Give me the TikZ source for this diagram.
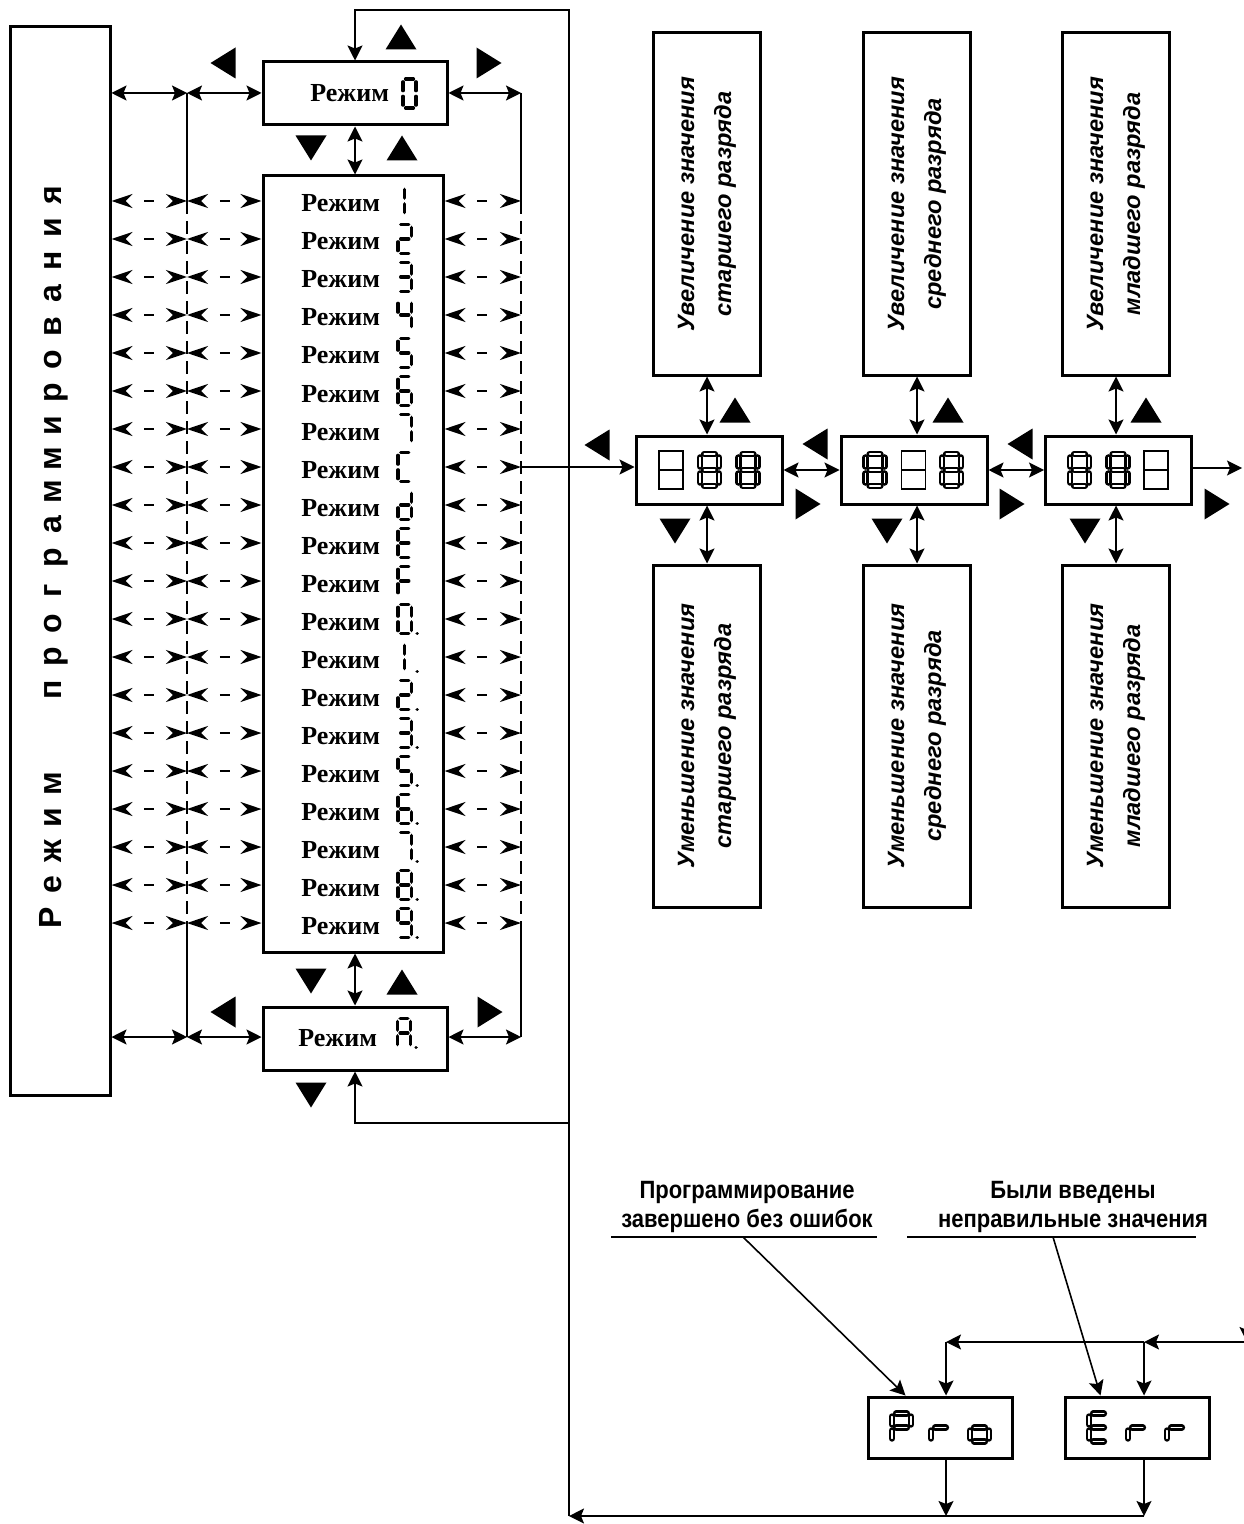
\documentclass[tikz,border=0pt]{standalone}
\usepackage{fontspec}
\setmainfont{Liberation Serif}
\setsansfont{Liberation Sans}
\newfontfamily\narrowsans[FakeStretch=0.88]{Liberation Sans}
\usetikzlibrary{arrows.meta}
\newcommand\segin{0.2}
\newcommand\sevseg[6]{%
  \edef\sglist{#5}%
  \begin{scope}[shift={(#1,#2)},xscale=#3,yscale=#4]
    \coordinate (sg-a1) at ({\segin},0);     \coordinate (sg-a2) at ({1-\segin},0);
    \coordinate (sg-b1) at (1,{\segin});     \coordinate (sg-b2) at (1,{1-\segin});
    \coordinate (sg-c1) at (1,{1+\segin});   \coordinate (sg-c2) at (1,{2-\segin});
    \coordinate (sg-d1) at ({\segin},2);     \coordinate (sg-d2) at ({1-\segin},2);
    \coordinate (sg-e1) at (0,{1+\segin});   \coordinate (sg-e2) at (0,{2-\segin});
    \coordinate (sg-f1) at (0,{\segin});     \coordinate (sg-f2) at (0,{1-\segin});
    \coordinate (sg-g1) at ({\segin},1);     \coordinate (sg-g2) at ({1-\segin},1);
    \coordinate (sg-h1) at (0.5,{\segin});   \coordinate (sg-h2) at (0.5,{1-\segin});
    \coordinate (sg-i1) at (0.5,{1+\segin}); \coordinate (sg-i2) at (0.5,{2-\segin});
    \coordinate (sg-p1) at (1.42,2);         \coordinate (sg-p2) at (1.43,2);
    \foreach \s in \sglist {\draw[#6] (sg-\s1) -- (sg-\s2);}
  \end{scope}}
\tikzset{
  triU/.pic={\fill (0,-12.5) -- (15.5,12.5) -- (-15.5,12.5) -- cycle;},
  triD/.pic={\fill (0,12.5) -- (15.5,-12.5) -- (-15.5,-12.5) -- cycle;},
  triL/.pic={\fill (-12.5,0) -- (12.5,-15.5) -- (12.5,15.5) -- cycle;},
  triR/.pic={\fill (12.5,0) -- (-12.5,-15.5) -- (-12.5,15.5) -- cycle;},
}
\begin{document}
\begin{tikzpicture}[x=0.5pt,y=-0.5pt,
  >={Stealth[length=7.5pt,width=7.5pt,inset=1.5pt]},
  box/.style={draw,line width=1.5pt,inner sep=0pt},
  conn/.style={line width=0.8pt},
  dbl/.style={conn,<->},
  ddbl/.style={conn,{Stealth[length=10.5pt,width=7pt,inset=3.5pt]}-{Stealth[length=10.5pt,width=7pt,inset=3.5pt]},dash pattern=on 0pt off 10pt on 5pt off 60pt,line width=1.2pt},
  vdash/.style={conn,dash pattern=on 6.5pt off 3.5pt},
  mtext/.style={font=\bfseries\fontsize{13}{15}\selectfont,inner sep=0pt},
  seg/.style={line width=1.7pt,line cap=round},
  bigseg/.style={line width=1.3pt,double=white,double distance=0.7pt,line cap=round},
  bigl/.style={rotate=90,anchor=base,inner sep=0pt,font=\sffamily\bfseries\fontsize{16}{18}\selectfont},
  talltext/.style={rotate=90,align=center,inner sep=0pt,font=\sffamily\bfseries\itshape\fontsize{11.8}{18.5}\selectfont},
  lbl/.style={align=center,inner sep=0pt,font=\narrowsans\bfseries\fontsize{12.5}{14.5}\selectfont},
]
\useasboundingbox (0,0) rectangle (1243,1524);

% ---------- left block ----------
\node[box,minimum width=50pt,minimum height=534pt] (lbox) at (60,561) {};
\foreach \ch [count=\k from 0] in {я,и,н,а,в,о,р,и,м,м,а,р,г,о,р,п}
  {\node[bigl] (lp\k) at (61,{195+33*\k}) {\ch};}
\foreach \ch [count=\k from 0] in {м,и,ж,е,Р}
  {\node[bigl] (lr\k) at (61,{784+33.5*\k}) {\ch};}

\node[box,minimum width=92pt,minimum height=31.5pt] (m0) at (355,93.5) {};
\node[box,minimum width=90pt,minimum height=388pt] (list) at (353,564) {};
\node[box,minimum width=92pt,minimum height=31.5pt] (mA) at (355,1038.5) {};

\node[mtext,anchor=base west] (m0t) at (310,102) {Режим};
\sevseg{403}{79}{13}{14.5}{a,b,c,d,e,f}{seg}
\node[mtext,anchor=base west] (mAt) at (298,1046) {Режим};
\sevseg{397.5}{1018.5}{13}{14.5}{a,b,c,e,f,g,p}{seg}

\coordinate (L0) at (187,93);  \coordinate (R0) at (521,93);
\coordinate (LA) at (187,1037); \coordinate (RA) at (521,1037);
\draw[dbl] (lbox.east |- L0) -- (L0);
\draw[dbl] (L0) -- (m0.west |- L0);
\draw[dbl] (m0.east |- R0) -- (R0);
\draw[dbl] (lbox.east |- LA) -- (LA);
\draw[dbl] (LA) -- (mA.west |- LA);
\draw[dbl] (mA.east |- RA) -- (RA);

\foreach \dg [count=\i] in {{h,i},{a,b,g,e,d},{a,b,g,c,d},{f,g,b,c},{a,f,g,c,d},{a,f,g,e,d,c},{a,b,c},{a,f,e,d},{b,c,d,e,g},{a,f,g,e,d},{a,f,g,e},{a,b,c,d,e,f,p},{h,i,p},{a,b,g,e,d,p},{a,b,g,c,d,p},{a,f,g,c,d,p},{a,f,g,e,d,c,p},{a,b,c,p},{a,b,c,d,e,f,g,p},{a,b,c,d,f,g,p}}{
  \pgfmathsetmacro\ry{201+38*(\i-1)}
  \coordinate (L\i) at (187,\ry);
  \coordinate (R\i) at (521,\ry);
  \node[mtext,anchor=base west] (rt\i) at (301,{\ry+11}) {Режим};
  \sevseg{398}{\ry-14.5}{13.5}{14.5}{\dg}{seg}
  \draw[ddbl] (lbox.east |- L\i) -- (L\i);
  \draw[ddbl] (L\i) -- (list.west |- L\i);
  \draw[ddbl] (list.east |- R\i) -- (R\i);
}
\draw[conn] (L0) -- (L1);
\draw[vdash] (L1) -- (L20);
\draw[conn] (L20) -- (LA);
\draw[conn] (R0) -- (R1);
\draw[vdash] (R1) -- (R20);
\draw[conn] (R20) -- (RA);

\draw[dbl] (m0.south) -- (m0.south |- list.north);
\draw[dbl] (list.south -| mA.north) -- (mA.north);

\pic at (223,63) {triL};
\pic at (401,37) {triU};
\pic at (489,63) {triR};
\pic at (311,148) {triD};
\pic at (402,148) {triU};
\pic at (311,981) {triD};
\pic at (402,982) {triU};
\pic at (223,1012) {triL};
\pic at (490,1012) {triR};
\pic at (311,1095) {triD};

% ---------- loop line ----------
\coordinate (tr) at (569,10);
\coordinate (br) at (569,1123);
\coordinate (bot) at (569,1516);
\draw[conn,->] (bot) -- (tr) -| (m0.north);
\draw[conn,->] (br) -| (mA.south);

% ---------- displays ----------
\node[box,minimum width=73pt,minimum height=34pt] (d1) at (709,470) {};
\node[box,minimum width=73pt,minimum height=34pt] (d2) at (914,470) {};
\node[box,minimum width=73pt,minimum height=34pt] (d3) at (1118.5,470) {};
\renewcommand\segin{0.22}
\draw[line width=0.6pt] (659,451) rectangle (683,489) (659,470) -- (683,470);
\sevseg{700}{454}{19}{16}{a,b,c,d,e,f,g}{bigseg}
\sevseg{738.5}{454}{19}{16}{a,b,c,d,e,f,g}{bigseg}
\sevseg{865.5}{454}{19}{16}{a,b,c,d,e,f,g}{bigseg}
\draw[line width=0.6pt] (901.5,451) rectangle (925.5,489) (901.5,470) -- (925.5,470);
\sevseg{942}{454}{19}{16}{a,b,c,d,e,f,g}{bigseg}
\sevseg{1070}{454}{19}{16}{a,b,c,d,e,f,g}{bigseg}
\sevseg{1108.5}{454}{19}{16}{a,b,c,d,e,f,g}{bigseg}
\draw[line width=0.6pt] (1144,451) rectangle (1168,489) (1144,470) -- (1168,470);

\draw[conn,->] (R8) -- (R8 -| d1.west);
\draw[dbl] (d1.east) -- (d2.west);
\draw[dbl] (d2.east) -- (d3.west);
\coordinate (redge) at (1242,468);
\draw[conn,->] (d3.east |- redge) -- (redge);

\foreach \n/\cx in {1/707,2/917,3/1116}{
  \node[box,minimum width=53.5pt,minimum height=171pt] (up\n) at (\cx,204) {};
  \node[box,minimum width=53.5pt,minimum height=171pt] (dn\n) at (\cx,736) {};
  \draw[dbl] (up\n.south) -- (up\n.south |- d\n.north);
  \draw[dbl] (dn\n.north |- d\n.south) -- (dn\n.north);
}
\node[talltext] (up1t) at (up1) {Увеличение значения\\старшего разряда};
\node[talltext] (up2t) at (up2) {Увеличение значения\\среднего разряда};
\node[talltext] (up3t) at (up3) {Увеличение значения\\младшего разряда};
\node[talltext] (dn1t) at (dn1) {Уменьшение значения\\старшего разряда};
\node[talltext] (dn2t) at (dn2) {Уменьшение значения\\среднего разряда};
\node[talltext] (dn3t) at (dn3) {Уменьшение значения\\младшего разряда};

\pic at (597,445) {triL};  \pic at (735,410) {triU};  \pic at (808,504) {triR};  \pic at (675,531) {triD};
\pic at (815,444) {triL};  \pic at (948,410) {triU};  \pic at (1012,504) {triR}; \pic at (887,531) {triD};
\pic at (1020,444) {triL}; \pic at (1146,410) {triU}; \pic at (1217,504) {triR}; \pic at (1085,531) {triD};

% ---------- Pro / Err ----------
\node[lbl] (lab1) at (747,1207) {Программирование\\завершено без ошибок};
\node[lbl] (lab2) at (1073,1207) {Были введены\\неправильные значения};
\coordinate (u1a) at (611,1237); \coordinate (u1b) at (877,1237); \coordinate (u1m) at (743,1237);
\coordinate (u2a) at (907,1237); \coordinate (u2b) at (1196,1237); \coordinate (u2m) at (1053,1237);
\draw[conn] (u1a) -- (u1b);
\draw[conn] (u2a) -- (u2b);

\node[box,minimum width=72pt,minimum height=30.5pt] (pro) at (940,1427.5) {};
\node[box,minimum width=72pt,minimum height=30.5pt] (err) at (1137,1427.5) {};
\sevseg{892}{1413.5}{19}{14}{a,b,e,f,g}{bigseg}
\sevseg{931}{1413.5}{19}{14}{e,g}{bigseg}
\sevseg{970}{1413.5}{19}{14}{c,d,e,g}{bigseg}
\sevseg{1089}{1413.5}{19}{14}{a,d,e,f,g}{bigseg}
\sevseg{1128}{1413.5}{19}{14}{e,g}{bigseg}
\sevseg{1167}{1413.5}{19}{14}{e,g}{bigseg}

\draw[conn,->] (u1m) -- ([xshift=19.5pt]pro.north west);
\draw[conn,->] (u2m) -- ([xshift=18.5pt]err.north west);

\coordinate (ec) at (1247,1342);
\coordinate (pdt) at (946,1342); \coordinate (edt) at (1144,1342);
\coordinate (pdb) at (946,1516); \coordinate (edb) at (1144,1516);
\draw[conn,->] (1247,468) -- (ec);
\draw[conn,->] (ec) -- (edt);
\draw[conn,->] (edt) -- (pdt);
\draw[conn,->] (pdt) -- (pdt |- pro.north);
\draw[conn,->] (edt) -- (edt |- err.north);
\draw[conn,->] (pdt |- pro.south) -- (pdb);
\draw[conn,->] (edt |- err.south) -- (edb);
\draw[conn,->] (edb) -- (bot);
\end{tikzpicture}
\end{document}
